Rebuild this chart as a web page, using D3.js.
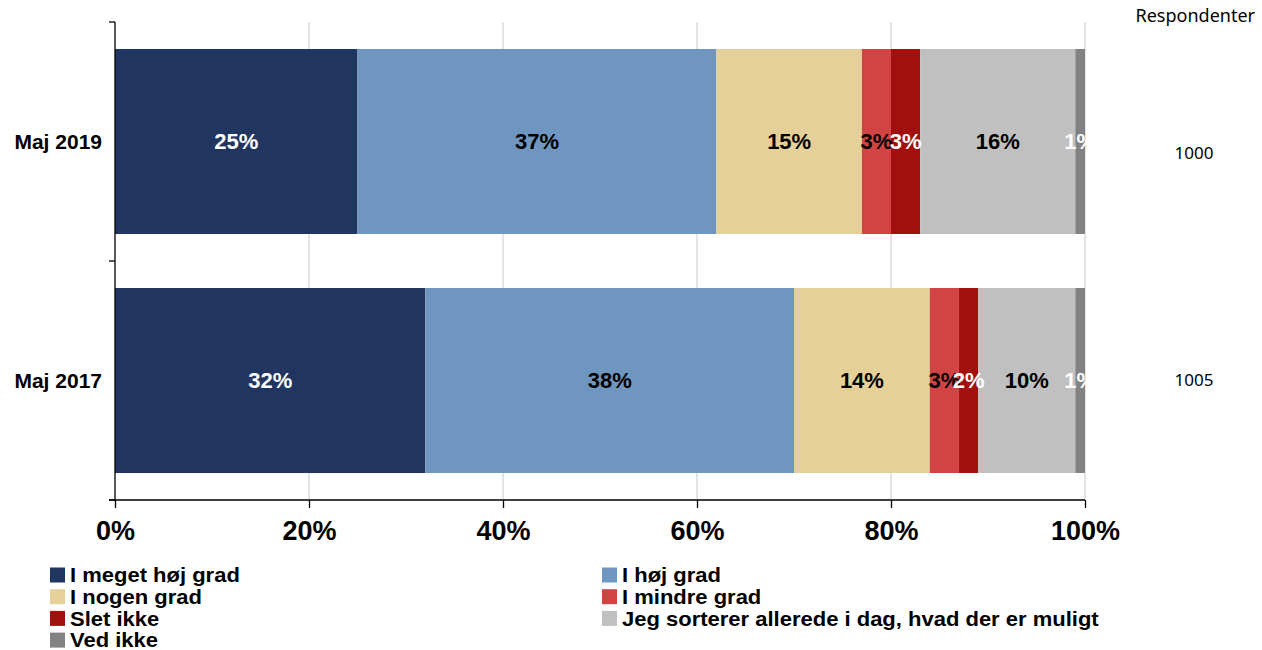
<!DOCTYPE html>
<html><head><meta charset="utf-8">
<script src="https://cdn.jsdelivr.net/npm/d3@7"></script>
<style>body{margin:0;background:#fff}svg{display:block}</style>
</head><body>
<script>
const categories = ["Maj 2019", "Maj 2017"];
const seriesNames = ["I meget høj grad", "I høj grad", "I nogen grad", "I mindre grad", "Slet ikke", "Jeg sorterer allerede i dag, hvad der er muligt", "Ved ikke"];
const values2019 = [25, 37, 15, 3, 3, 16, 1];
const values2017 = [32, 38, 14, 3, 2, 10, 1];
const respondents = [1000, 1005];
const xTicks = [0, 20, 40, 60, 80, 100];
const colors = ["#203560", "#6f96c1", "#e4d098", "#d24444", "#a2100e", "#c0c0c0", "#828282"];
const labelColors = ["#fff", "#000", "#000", "#000", "#fff", "#000", "#fff"];

const W = 1262, H = 650;
const FONT = "Arial, 'Liberation Sans', sans-serif";
const svg = d3.select("body").append("svg").attr("width", W).attr("height", H);
const x = d3.scaleLinear().domain([0, 100]).range([115, 1085]);
const y = d3.scaleBand().domain(categories).range([22, 500]).paddingInner(0.226).paddingOuter(0.113);
const color = d3.scaleOrdinal().domain(seriesNames).range(colors);

// gridlines
svg.append("g").selectAll("line").data(xTicks.filter(d => d > 0)).join("line")
  .attr("x1", d => x(d)).attr("x2", d => x(d)).attr("y1", 22).attr("y2", 500)
  .attr("stroke", "#c8c8c8").attr("stroke-width", 1);

const rows = [values2019, values2017];
const data = categories.map((c, i) => {
  let acc = 0;
  return rows[i].map((v, j) => { const s = {cat: c, key: seriesNames[j], j, v, x0: acc, x1: acc + v}; acc += v; return s; });
});

const g = svg.append("g");
data.forEach(row => {
  g.selectAll(null).data(row).join("rect")
    .attr("x", d => x(d.x0)).attr("width", d => x(d.x1) - x(d.x0))
    .attr("y", d => y(d.cat)).attr("height", y.bandwidth())
    .attr("fill", d => color(d.key));
  g.selectAll(null).data(row).join("text")
    .attr("x", d => (x(d.x0) + x(d.x1)) / 2).attr("y", d => y(d.cat) + y.bandwidth() / 2)
    .attr("dy", "0.36em").attr("text-anchor", "middle")
    .attr("font-family", FONT).attr("font-weight", "bold").attr("font-size", 22)
    .attr("fill", d => labelColors[d.j]).text(d => d.v + "%");
});

// y axis
const yTickPos = [22, 22 + y.step(), 500];
svg.append("line").attr("x1", 115).attr("x2", 115).attr("y1", 22).attr("y2", 500).attr("stroke", "#000").attr("stroke-width", 1.3);
svg.append("g").selectAll("line").data(yTickPos).join("line")
  .attr("x1", 109).attr("x2", 115).attr("y1", d => d).attr("y2", d => d).attr("stroke", "#000").attr("stroke-width", 1.3);
svg.append("g").selectAll("text").data(categories).join("text")
  .attr("x", 102).attr("y", d => y(d) + y.bandwidth() / 2).attr("dy", "0.36em")
  .attr("text-anchor", "end").attr("font-family", FONT)
  .attr("font-weight", "bold").attr("font-size", 21).text(d => d);

// x axis
const xAxis = d3.axisBottom(x).tickValues(xTicks).tickFormat(d => d + "%").tickSize(8).tickPadding(13);
const xa = svg.append("g").attr("transform", "translate(0,500)").call(xAxis);
xa.select(".domain").attr("stroke", "#000").attr("stroke-width", 1.3).attr("d", "M109,0H1085");
xa.selectAll(".tick line").attr("stroke", "#000").attr("stroke-width", 1.3);
xa.selectAll(".tick text").attr("font-family", FONT)
  .attr("font-weight", "bold").attr("font-size", 27).attr("fill", "#000");

// respondents
svg.append("text").attr("x", 1255).attr("y", 22).attr("text-anchor", "end")
  .attr("font-family", "'Noto Sans', Lato, sans-serif").attr("font-size", 18).attr("fill", "#000").text("Respondenter");
const respOffset = [17, 5.5];
svg.append("g").selectAll("text").data(respondents).join("text")
  .attr("x", 1194).attr("y", (d, i) => y(categories[i]) + y.bandwidth() / 2 + respOffset[i])
  .attr("text-anchor", "middle").attr("font-family", "'Noto Sans', Lato, sans-serif").attr("font-size", 17).attr("fill", "#000").text(d => d);

// legend
const legPos = seriesNames.map((n, i) => ({n, i, col: i % 2, row: Math.floor(i / 2)}));
const lg = svg.append("g").selectAll("g").data(legPos).join("g")
  .attr("transform", d => `translate(${d.col ? 602 : 50},${575 + d.row * 21.7})`);
lg.append("rect").attr("x", 0).attr("y", -7.5).attr("width", 15).attr("height", 15).attr("fill", d => color(d.n));
lg.append("text").attr("transform", "translate(20,0) scale(1.1,1)").attr("dy", "0.36em")
  .attr("font-family", FONT).attr("font-weight", "bold").attr("font-size", 20)
  .attr("fill", "#000").text(d => d.n);
</script>
</body></html>
